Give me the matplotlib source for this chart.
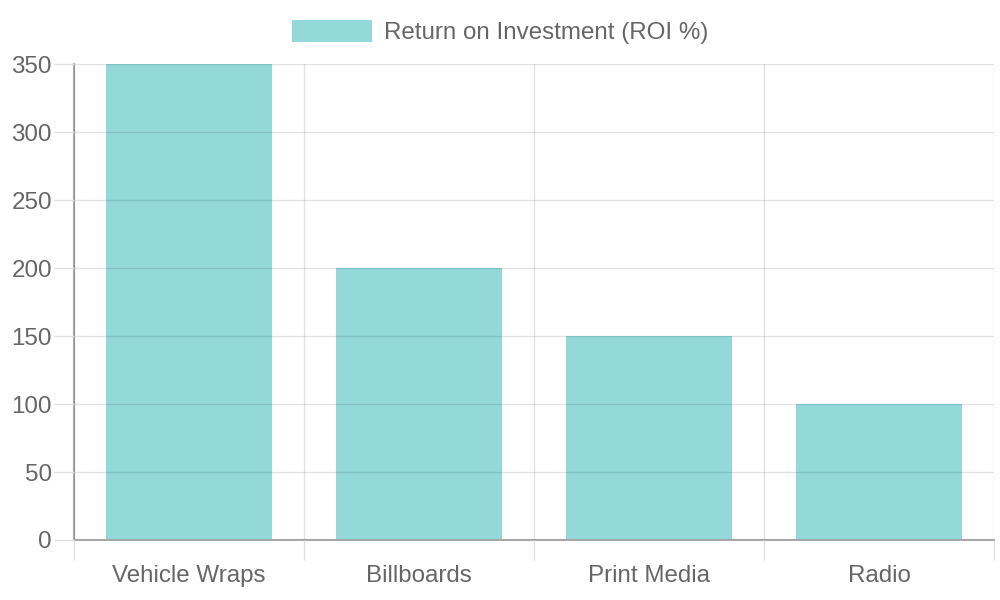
import matplotlib
matplotlib.use("Agg")
import matplotlib.pyplot as plt
from matplotlib.patches import Patch
from matplotlib.ticker import FixedLocator

plt.rcParams["font.family"] = ["Liberation Sans", "DejaVu Sans"]

# data
channels = ["Vehicle Wraps", "Billboards", "Print Media", "Radio"]
roi_values = [350, 200, 150, 100]
series_label = "Return on Investment (ROI %)"
y_ticks = [0, 50, 100, 150, 200, 250, 300, 350]

bar_color = (75 / 255, 192 / 255, 192 / 255, 0.6)
grid_light = "#e1e1e1"
axis_color = "#a8a8a8"
text_color = "#666666"
font_size = 17.4

fig = plt.figure(figsize=(10, 6), dpi=100)
ax = fig.add_axes([0.074, 0.1, 0.92, 0.7933])

x_pos = list(range(len(channels)))
ax.bar(x_pos, roi_values, width=0.72, color=bar_color, linewidth=0, zorder=1)

ax.set_xlim(-0.5, len(channels) - 0.5)
ax.set_ylim(0, 350)

# category labels at centres, grid lines on category boundaries
ax.set_xticks(x_pos)
ax.set_xticklabels(channels)
ax.xaxis.set_minor_locator(FixedLocator([i - 0.5 for i in range(len(channels) + 1)]))
ax.tick_params(axis="x", which="major", length=0, pad=18, labelsize=font_size, labelcolor=text_color)
ax.tick_params(axis="x", which="minor", length=14.4, width=1, color=grid_light)
ax.grid(True, axis="x", which="minor", color="black", alpha=0.11, linewidth=1, zorder=2)

ax.set_yticks(y_ticks)
ax.tick_params(axis="y", length=14.4, width=1, color=grid_light, pad=1.5,
               labelsize=font_size, labelcolor=text_color)
ax.grid(True, axis="y", which="major", color="black", alpha=0.11, linewidth=1, zorder=2)
ax.set_axisbelow(False)

ax.spines["top"].set_visible(False)
ax.spines["right"].set_visible(False)
for side in ["left", "bottom"]:
    ax.spines[side].set_color(axis_color)
    ax.spines[side].set_linewidth(1.5)

handle = Patch(facecolor=bar_color, edgecolor="none")
fig.legend([handle], [series_label], loc="center", bbox_to_anchor=(0.5, 1 - 32 / 600),
           frameon=False, fontsize=font_size, labelcolor=text_color,
           handlelength=3.3, handleheight=1.0, handletextpad=0.5)

fig.savefig("out.png", dpi=100, facecolor="white")
